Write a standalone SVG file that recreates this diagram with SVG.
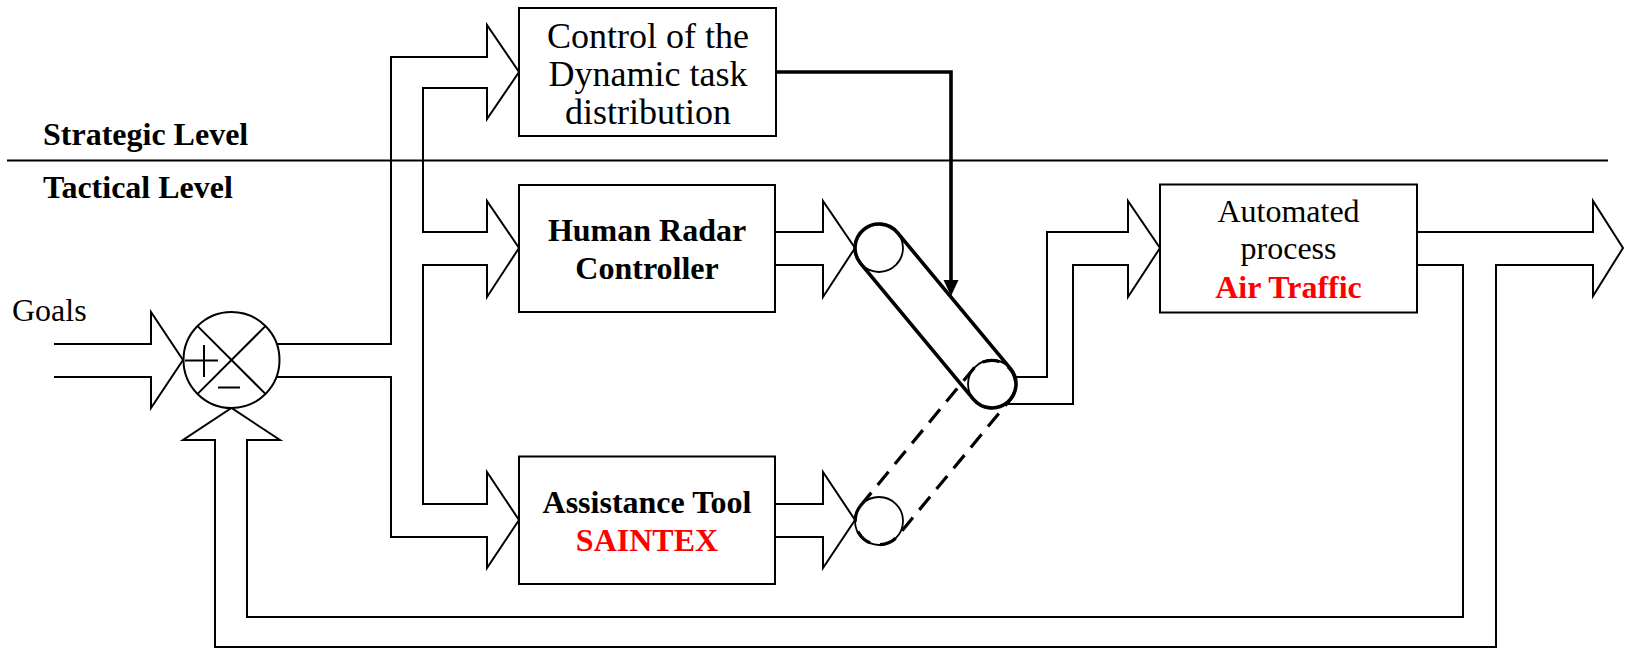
<svg xmlns="http://www.w3.org/2000/svg" width="1625" height="649" viewBox="0 0 1625 649">
  <style>
    .wire { fill: none; stroke: #000; stroke-width: 2; stroke-linejoin: miter; }
    .box { fill: #fff; stroke: #000; stroke-width: 2; }
    .thin { fill: none; stroke: #000; stroke-width: 1.8; }
    .thick { fill: none; stroke: #000; stroke-width: 3.6; }
    .dash { fill: none; stroke: #000; stroke-width: 3.2; stroke-dasharray: 17 10; }
    .t { font-family: "Liberation Serif", "Times New Roman", serif; font-size: 32px; fill: #000; text-anchor: middle; }
    .big { font-size: 36px; }
    .b { font-weight: bold; }
    .red { fill: #ff0000; }
    .lbl { font-family: "Liberation Serif", "Times New Roman", serif; font-size: 32px; fill: #000; }
  </style>

  <!-- level separator -->
  <g id="levels">
    <line x1="7" y1="160.5" x2="1608" y2="160.5" stroke="#000" stroke-width="1.8"/>
    <text class="lbl b" x="43" y="145">Strategic Level</text>
    <text class="lbl b" x="43" y="198">Tactical Level</text>
  </g>

  <!-- wide arrows and signal lines -->
  <g id="connectors">
    <!-- goals input -->
    <path class="wire" d="M54,344 H151 V312 L183,360 L151,408 V377 H54"/>
    <!-- error signal fanned out to the three blocks -->
    <path class="wire" d="M277,344 H391 V57 H487 V25 L519,72 L487,119 V88 H423 V232 H487 V201 L519,248 L487,297 V265 H423 V504 H487 V472 L519,520 L487,568 V537 H391 V377 H277"/>
    <!-- controller outputs into the switch -->
    <path class="wire" d="M775,232 H823 V201 L855,248 L823,297 V265 H775"/>
    <path class="wire" d="M775,504 H823 V472 L855,520 L823,568 V537 H775"/>
    <!-- switch output into the process -->
    <path class="wire" d="M1015,377 H1047 V232 H1128 V201 L1160,248 L1128,297 V265 H1073 V404 H1005"/>
    <!-- process output and feedback loop -->
    <path class="wire" d="M1417,232 H1593 V201 L1623,248 L1593,296 V265 H1496 V647 H215 V440 H183 L231.5,408 L280,440 H247 V617 H1463 V265 H1417"/>
    <!-- task distribution command -->
    <path class="thick" d="M776,72 H951 V282" stroke-width="3.3"/>
    <polygon points="943.5,280 958.5,280 951,296" fill="#000"/>
  </g>

  <!-- comparator -->
  <g id="summation">
    <circle cx="231.5" cy="360" r="48" fill="#fff" stroke="#000" stroke-width="2"/>
    <line x1="197.6" y1="326.1" x2="265.4" y2="393.9" stroke="#000" stroke-width="2"/>
    <line x1="265.4" y1="326.1" x2="197.6" y2="393.9" stroke="#000" stroke-width="2"/>
    <line x1="185" y1="360.5" x2="218" y2="360.5" stroke="#000" stroke-width="2"/>
    <line x1="204" y1="345" x2="204" y2="377" stroke="#000" stroke-width="2"/>
    <line x1="218" y1="387.5" x2="240" y2="387.5" stroke="#000" stroke-width="2"/>
    <text class="lbl" x="12" y="321">Goals</text>
  </g>

  <g id="control-distribution">
    <rect class="box" x="519" y="8" width="257" height="128"/>
    <text class="t big" x="648" y="47.5">Control of the</text>
    <text class="t big" x="648" y="85.5">Dynamic task</text>
    <text class="t big" x="648" y="123.5">distribution</text>
  </g>

  <g id="human-radar-controller">
    <rect class="box" x="519" y="185" width="256" height="127"/>
    <text class="t b" x="647" y="241">Human Radar</text>
    <text class="t b" x="647" y="278.5">Controller</text>
  </g>

  <g id="assistance-tool">
    <rect class="box" x="519" y="456.5" width="256" height="127.5"/>
    <text class="t b" x="647" y="513">Assistance Tool</text>
    <text class="t b red" x="647" y="551">SAINTEX</text>
  </g>

  <g id="automated-process">
    <rect class="box" x="1160" y="184.5" width="257" height="128"/>
    <text class="t" x="1288.5" y="222">Automated</text>
    <text class="t" x="1288.5" y="259">process</text>
    <text class="t b red" x="1288.5" y="298">Air Traffic</text>
  </g>

  <!-- task allocation switch: active path solid, alternative dashed -->
  <g id="switch">
    <circle class="thin" cx="879" cy="248" r="24"/>
    <circle class="thin" cx="992" cy="384" r="24"/>
    <circle class="thin" cx="879" cy="521" r="24"/>
    <path class="thick" d="M897.46,232.66 L1010.46,368.66 A24,24 0 0 1 973.54,399.34 L860.54,263.34 A24,24 0 0 1 897.46,232.66 Z"/>
    <path class="dash" d="M860.49,505.73 L973.49,368.73 A24,24 0 0 1 1010.51,399.27 L897.51,536.27 A24,24 0 0 1 860.49,505.73"/>
  </g>
</svg>
